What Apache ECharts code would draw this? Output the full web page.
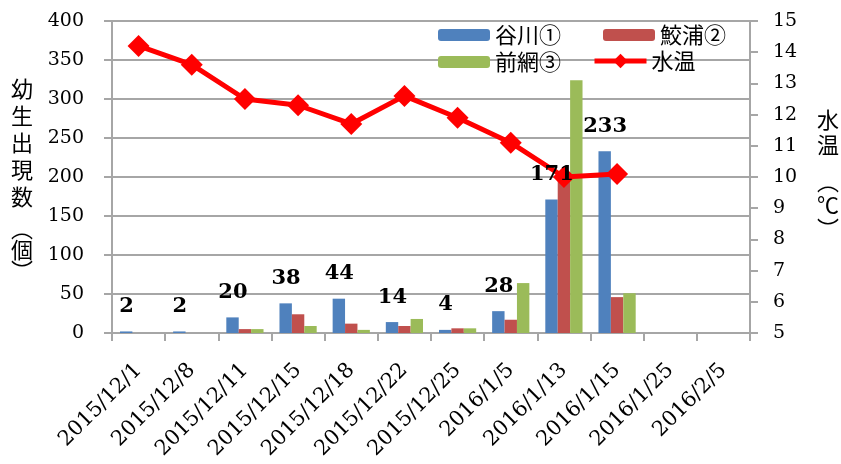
<!DOCTYPE html>
<html>
<head>
<meta charset="utf-8">
<script src="https://cdn.jsdelivr.net/npm/echarts@6/dist/echarts.min.js"></script>
<style>
  html, body { margin: 0; padding: 0; background: #fff; }
  #main { width: 841px; height: 464px; }
</style>
</head>
<body>
<div id="main"></div>
<script>
// 調査日
var dates = ['2015/12/1', '2015/12/8', '2015/12/11', '2015/12/15', '2015/12/18', '2015/12/22',
             '2015/12/25', '2016/1/5', '2016/1/13', '2016/1/15', '2016/1/25', '2016/2/5'];
// 幼生出現数（個）
var tanigawa  = [2, 2, 20, 38, 44, 14, 4, 28, 171, 233, null, null];
var samenoura = [0, 0, 5, 24, 12, 9, 6, 17, 205, 46, null, null];
var maeami    = [0, 0, 5, 9, 4, 18, 6, 64, 324, 51, null, null];
// 水温（℃）
var waterTemp = [14.2, 13.6, 12.5, 12.3, 11.7, 12.6, 11.9, 11.1, 10.0, 10.1, null, null];

var serif = 'DejaVu Serif';
var jp = 'Noto Sans CJK JP';
var gray = '#a6a6a6';

// 縦書きの軸タイトル（1文字ずつ、括弧は縦書き用の字形）
function vtext(chars, x, ys) {
    return chars.map(function (c, i) {
        return {
            type: 'text', x: x, y: ys[i],
            style: {
                text: c, fill: '#000', align: 'center', verticalAlign: 'middle',
                font: '22px "Noto Sans CJK JP"'
            }
        };
    });
}
var leftName = vtext(['幼', '生', '出', '現', '数', '︵', '個', '︶'], 22,
                     [89, 116, 143, 170, 197, 229, 250, 271]);
var rightName = vtext(['水', '温', '︵', '℃', '︶'], 828, [120, 145, 182, 205, 229]);

var legendText = { fontFamily: jp, fontSize: 22, color: '#000' };

var myChart = echarts.init(document.getElementById('main'));
myChart.setOption({
    backgroundColor: '#fff',
    animation: false,
    grid: { left: 112, right: 91, top: 21, bottom: 131 },
    legend: [
        {
            data: ['谷川①', '鮫浦②'],
            left: 438, top: 24, padding: 0,
            itemWidth: 52, itemHeight: 12, itemGap: 42, itemTextGap: 8,
            textStyle: legendText
        },
        {
            data: ['前網③'],
            left: 438, top: 51, padding: 0,
            itemWidth: 52, itemHeight: 12, itemTextGap: 8,
            textStyle: legendText
        },
        {
            data: ['水温'],
            left: 592, top: 50, padding: 0,
            itemWidth: 52, itemHeight: 18, itemTextGap: 6,
            lineStyle: { width: 5 },
            textStyle: legendText
        }
    ],
    xAxis: {
        type: 'category',
        data: dates,
        axisLine: { lineStyle: { color: gray, width: 2 } },
        axisTick: { show: true, length: 8, lineStyle: { color: gray, width: 2 } },
        axisLabel: {
            rotate: 45, margin: 34, interval: 0,
            fontFamily: serif, fontSize: 21, color: '#000'
        }
    },
    yAxis: [
        {
            type: 'value', min: 0, max: 400, interval: 50,
            axisLine: { show: true, lineStyle: { color: gray, width: 2 } },
            axisTick: { show: true, length: 8, lineStyle: { color: gray, width: 2 } },
            splitLine: { lineStyle: { color: gray, width: 2 } },
            axisLabel: { margin: 28, fontFamily: serif, fontSize: 19, color: '#000' }
        },
        {
            type: 'value', min: 5, max: 15, interval: 1,
            position: 'right',
            axisLine: { show: true, lineStyle: { color: gray, width: 2 } },
            axisTick: { show: true, length: 8, lineStyle: { color: gray, width: 2 } },
            splitLine: { show: false },
            axisLabel: { margin: 23, align: 'left', fontFamily: serif, fontSize: 19, color: '#000' }
        }
    ],
    graphic: leftName.concat(rightName),
    series: [
        {
            name: '谷川①', type: 'bar', data: tanigawa,
            barGap: '0%', barCategoryGap: '30%',
            itemStyle: { color: '#4f81bd' }
        },
        {
            name: '鮫浦②', type: 'bar', data: samenoura,
            barGap: '0%', barCategoryGap: '30%',
            itemStyle: { color: '#c0504d' }
        },
        {
            name: '前網③', type: 'bar', data: maeami,
            barGap: '0%', barCategoryGap: '30%',
            itemStyle: { color: '#9bbb59' }
        },
        {
            name: '水温', type: 'line', yAxisIndex: 1, data: waterTemp,
            symbol: 'diamond', symbolSize: 22,
            lineStyle: { color: '#ff0000', width: 5 },
            itemStyle: { color: '#ff0000' },
            z: 3
        },
        {
            // 谷川①のデータラベル（折れ線より手前に出すため別系列）
            name: '谷川①ラベル', type: 'line', data: tanigawa,
            symbol: 'circle', symbolSize: 1, showSymbol: true, showAllSymbol: true,
            itemStyle: { opacity: 0 }, lineStyle: { opacity: 0 },
            z: 5, silent: true,
            label: {
                show: true, position: 'top', distance: 14, offset: [-12, 0],
                opacity: 1,
                fontFamily: serif, fontSize: 21, fontWeight: 'bold', color: '#000'
            }
        }
    ]
});
</script>
</body>
</html>
